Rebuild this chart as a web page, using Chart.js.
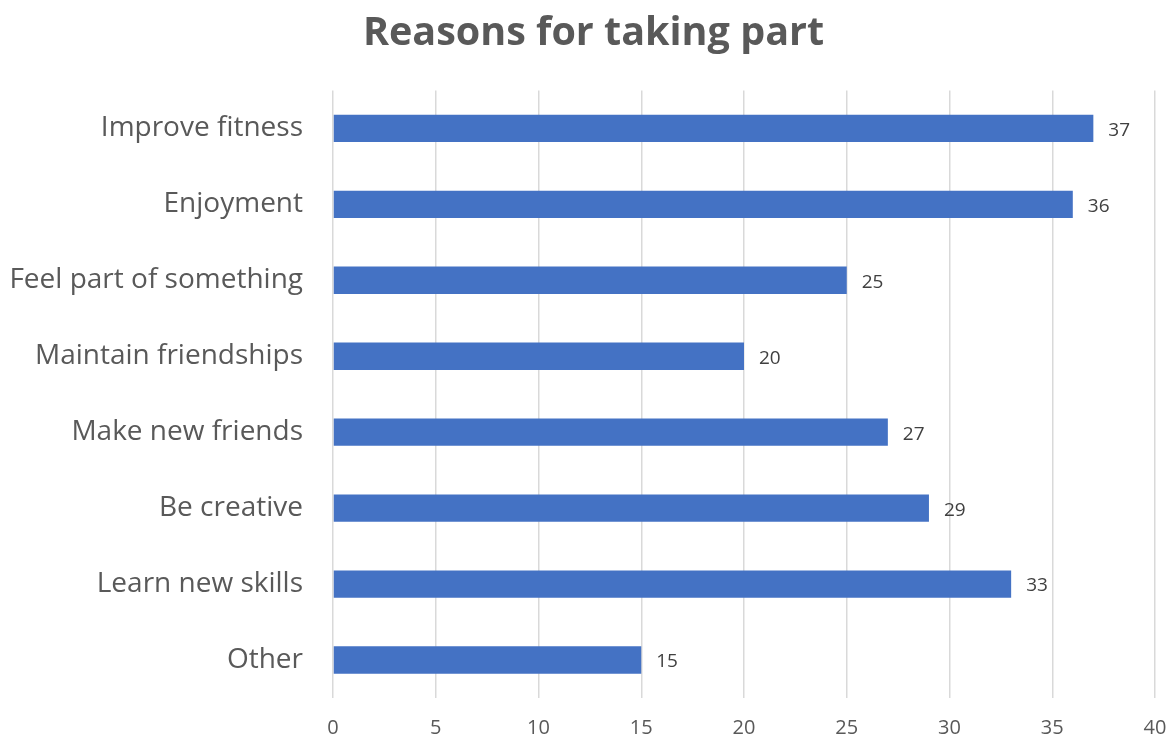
<!DOCTYPE html>
<html>
<head>
<meta charset="utf-8">
<script src="https://cdn.jsdelivr.net/npm/chart.js@4"></script>
<style>
  html, body { margin: 0; padding: 0; background: #fff; }
  #wrap { width: 1169px; height: 739px; }
</style>
</head>
<body>
<div id="wrap"><canvas id="reasonsChart" width="1169" height="739"></canvas></div>
<script>
// Chart data
const categories = ['Improve fitness', 'Enjoyment', 'Feel part of something', 'Maintain friendships',
    'Make new friends', 'Be creative', 'Learn new skills', 'Other'];
const responses = [37, 36, 25, 20, 27, 29, 33, 15];
const xTicks = [0, 5, 10, 15, 20, 25, 30, 35, 40];

// Simple value labels at bar ends
const barLabels = {
    id: 'barLabels',
    afterLayout(chart) {
        // nudge the title a little to the right, like the original
        if (chart.titleBlock) chart.titleBlock.left += 32;
    },
    afterDatasetsDraw(chart) {
        const ctx = chart.ctx;
        const meta = chart.getDatasetMeta(0);
        ctx.save();
        ctx.font = '19px "Open Sans"';
        ctx.fillStyle = '#404040';
        ctx.textAlign = 'left';
        ctx.textBaseline = 'middle';
        meta.data.forEach((bar, i) => {
            ctx.fillText(responses[i], bar.x + 15, bar.y + 2);
        });
        ctx.restore();
    }
};

const ctx = document.getElementById('reasonsChart').getContext('2d');
new Chart(ctx, {
    type: 'bar',
    data: {
        labels: categories,
        datasets: [{
            data: responses,
            backgroundColor: '#4472c4',
            barPercentage: 0.36,
            categoryPercentage: 1
        }]
    },
    options: {
        indexAxis: 'y',
        responsive: false,
        animation: false,
        layout: { padding: { left: 0, right: 14, top: 0, bottom: 0 } },
        plugins: {
            legend: { display: false },
            tooltip: { enabled: false },
            title: {
                display: true,
                text: 'Reasons for taking part',
                color: '#595959',
                font: { family: 'Open Sans', size: 39.5, weight: 'bold' },
                padding: { top: 10, bottom: 33 }
            }
        },
        scales: {
            x: {
                min: 0,
                max: 40,
                afterBuildTicks: axis => { axis.ticks = xTicks.map(v => ({ value: v })); },
                grid: { color: '#d9d9d9', lineWidth: 1.5, drawTicks: false },
                border: { display: false },
                ticks: { color: '#595959', font: { family: 'Open Sans', size: 20 }, padding: 18 },
                afterFit: axis => {
                    axis.height = 41;
                    axis.paddingLeft = 0;
                    axis.paddingRight = 0;
                }
            },
            y: {
                grid: { display: false, drawTicks: false },
                border: { display: false },
                ticks: { color: '#595959', font: { family: 'Open Sans', size: 28 }, padding: 30 },
                afterFit: axis => {
                    axis.width = 333;
                    axis.paddingTop = 0;
                    axis.paddingBottom = 0;
                }
            }
        }
    },
    plugins: [barLabels]
});
</script>
</body>
</html>
